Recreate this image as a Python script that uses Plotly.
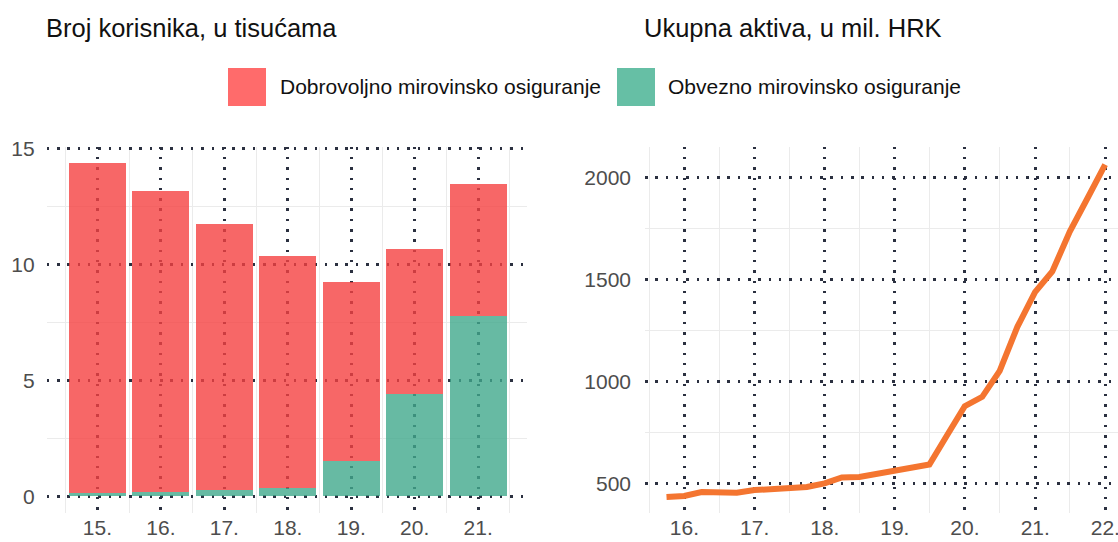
import plotly.graph_objects as go

# ---------------- data ----------------
years = [2015, 2016, 2017, 2018, 2019, 2020, 2021]
year_labels = ["15.", "16.", "17.", "18.", "19.", "20.", "21."]
dobrovoljno = [14.23, 12.96, 11.50, 10.01, 7.69, 6.25, 5.67]
obvezno = [0.15, 0.20, 0.25, 0.37, 1.53, 4.41, 7.79]

quarters = [
    "2015-09-30", "2015-12-31", "2016-03-31", "2016-06-30", "2016-09-30", "2016-12-31",
    "2017-03-31", "2017-06-30", "2017-09-30", "2017-12-31", "2018-03-31", "2018-06-30",
    "2018-09-30", "2018-12-31", "2019-03-31", "2019-06-30", "2019-09-30", "2019-12-31",
    "2020-03-31", "2020-06-30", "2020-09-30", "2020-12-31", "2021-03-31", "2021-06-30",
    "2021-09-30", "2021-12-31",
]
aktiva = [433, 438, 457, 454, 454, 467, 472, 474, 482, 500, 529, 531, 546, 556, 570, 592,
          736, 878, 924, 1051, 1267, 1437, 1538, 1734, 1897, 2062]
line_ticks = ["2016-01-01", "2017-01-01", "2018-01-01", "2019-01-01", "2020-01-01",
              "2021-01-01", "2022-01-01"]
line_tick_labels = ["16.", "17.", "18.", "19.", "20.", "21.", "22."]
line_minor = ["2015-07-01", "2016-07-01", "2017-07-01", "2018-07-01", "2019-07-01",
              "2020-07-01", "2021-07-01"]

titles = ["Broj korisnika, u tisućama", "Ukupna aktiva, u mil. HRK"]
legend_names = ["Dobrovoljno mirovinsko osiguranje", "Obvezno mirovinsko osiguranje"]

# ---------------- style ----------------
W, H = 1118, 542
FONT = "Liberation Sans, Arial, sans-serif"
RED_BAR = "rgba(245,65,65,0.8)"
GREEN_BAR = "rgba(65,169,140,0.8)"
RED_KEY = "#FF6B6B"
GREEN_KEY = "#66BFA5"
ORANGE = "#F47530"
DOT_COL = "#2B3040"
DOT_DASH = "2.5px,7.8px"
LIGHT = "#EBEBEB"
TICK_COL = "#4D4D4D"

def px(x):
    return x / W

def py(y):
    return 1 - y / H

fig = go.Figure()

fig.add_trace(go.Bar(x=years, y=obvezno, name=legend_names[1], marker=dict(color=GREEN_BAR, line=dict(width=0)),
                     width=0.9, xaxis="x", yaxis="y", showlegend=False))
fig.add_trace(go.Bar(x=years, y=dobrovoljno, name=legend_names[0], marker=dict(color=RED_BAR, line=dict(width=0)),
                     width=0.9, xaxis="x", yaxis="y", showlegend=False))
fig.add_trace(go.Scatter(x=quarters, y=aktiva, mode="lines", line=dict(color=ORANGE, width=6),
                         xaxis="x2", yaxis="y2", showlegend=False))

ydom = [0.054, 0.7295]
common = dict(showline=False, zeroline=False, automargin=False,
              tickfont=dict(family=FONT, size=21, color=TICK_COL),
              showgrid=True, gridcolor=DOT_COL, gridwidth=2.5, griddash=DOT_DASH,
              ticks="", fixedrange=True, ticklabeloverflow="allow")

def minor(vals):
    return dict(tickvals=vals, showgrid=True, gridcolor=LIGHT, gridwidth=1.2, griddash="solid", ticks="")

fig.update_layout(
    width=W, height=H, margin=dict(l=0, r=0, t=0, b=0),
    paper_bgcolor="white", plot_bgcolor="white",
    barmode="stack", bargap=0.1,
    font=dict(family=FONT),
    xaxis=dict(domain=[px(46.7), px(527)], range=[2014.2, 2021.77],
               tickmode="array", tickvals=years, ticktext=year_labels,
               ticklabelstandoff=0,
               minor=minor([y + 0.5 for y in [years[0] - 1] + years]),
               anchor="y", **common),
    yaxis=dict(domain=ydom, range=[-0.715, 15.08], tickmode="array", tickvals=[0, 5, 10, 15],
               ticklabelstandoff=11, minor=minor([2.5, 7.5, 12.5]),
               anchor="x", **common),
    xaxis2=dict(domain=[px(645), 1.0], type="date", range=["2015-06-10", "2022-03-08"],
                tickmode="array", tickvals=line_ticks, ticktext=line_tick_labels,
                ticklabelstandoff=0, minor=minor(line_minor),
                anchor="y2", **common),
    yaxis2=dict(domain=ydom, range=[356, 2150], tickmode="array", tickvals=[500, 1000, 1500, 2000],
                ticklabelstandoff=13, minor=minor([750, 1250, 1750]),
                anchor="x2", **common),
)

# titles
for xpos, t in zip([43.5, 642], titles):
    fig.add_annotation(x=px(xpos), y=py(28), xref="paper", yref="paper", text=t, showarrow=False,
                       xanchor="left", yanchor="middle", font=dict(family=FONT, size=25.5, color="#111111"))

# custom legend
for (kx, tx), col, name in zip([(228, 277.5), (617, 665.5)], [RED_KEY, GREEN_KEY], legend_names):
    fig.add_shape(type="rect", xref="paper", yref="paper", x0=px(kx), x1=px(kx + 38),
                  y0=py(106), y1=py(68), fillcolor=col, line=dict(width=0))
    fig.add_annotation(x=px(tx), y=py(87), xref="paper", yref="paper", text=name, showarrow=False,
                       xanchor="left", yanchor="middle", font=dict(family=FONT, size=21, color="#111111"))

fig.write_html("out.html", config={"displayModeBar": False},
               post_script="document.body.style.margin='0';document.body.style.overflow='hidden';")
